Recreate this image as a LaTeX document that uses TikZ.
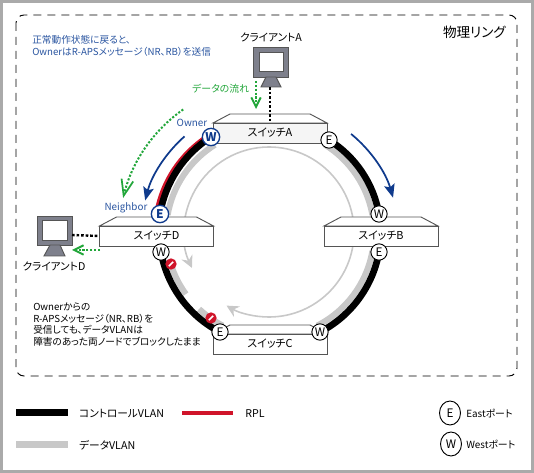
\documentclass[tikz,border=0pt]{standalone}
\usepackage{fontspec}
\setmainfont[RawFeature={+palt}]{Noto Sans CJK JP}
\usetikzlibrary{arrows.meta,calc}
\pgfdeclarelayer{back}
\pgfdeclarelayer{mid}
\pgfsetlayers{back,mid,main}
\definecolor{ctlblue}{HTML}{0F3A8C}
\definecolor{txtblue}{HTML}{2A55A0}
\definecolor{flowgreen}{HTML}{22A63A}
\definecolor{datagray}{HTML}{C8C8C8}
\definecolor{framegray}{HTML}{AAAAAA}
\definecolor{rplred}{HTML}{D0142A}
\definecolor{edgegray}{HTML}{555555}
\definecolor{monitor}{HTML}{7E808C}
\tikzset{
  x=0.75pt,y=-0.75pt,
  txt/.style={inner sep=0pt,font=\fontsize{7.25}{9}\selectfont},
  ltxt/.style={txt,anchor=west},
  bigtxt/.style={inner sep=0pt,font=\fontsize{8}{9}\selectfont},
  lgd/.style={bigtxt,anchor=west},
  bluetxt/.style={ltxt,text=txtblue},
  port/.style={circle,draw=black,fill=white,line width=.7pt,minimum size=12.2pt,inner sep=0pt,font=\fontsize{8.8}{9}\selectfont},
  ownerport/.style={circle,draw=ctlblue,fill=white,line width=1pt,minimum size=13pt,inner sep=0pt,text=ctlblue,font=\fontsize{9}{9}\selectfont\bfseries},
  switchbox/.style={rectangle,draw=edgegray,fill=white,line width=.7pt,minimum width=85.5pt,minimum height=15pt,inner sep=0pt,font=\fontsize{8.2}{9}\selectfont},
  switchtop/.style={draw=edgegray,fill=white,line width=.7pt},
  ctl/.style={line width=5pt,black},
  data/.style={line width=4.6pt,datagray},
  thin ring/.style={line width=1.2pt,datagray,-{Stealth[length=9pt,width=9pt,inset=3pt]}},
  blue flow/.style={line width=1.3pt,ctlblue,-{Stealth[length=10pt,width=8pt,inset=2pt]}},
  green flow/.style={line width=1.5pt,flowgreen,dash pattern=on 1.6pt off 1.3pt},
  mon/.style={draw=edgegray,fill=monitor,line width=.7pt},
  noentry/.style={circle,fill=rplred,minimum size=8.5pt,inner sep=0pt,path picture={\draw[white,line width=1.3pt] ([xshift=-1.6pt,yshift=-1.6pt]path picture bounding box.center) -- ([xshift=1.6pt,yshift=1.6pt]path picture bounding box.center);}},
}
\begin{document}
\begin{tikzpicture}
\useasboundingbox (0,0) rectangle (534,473);
\draw[framegray,line width=2.4pt] (1.6,1.6) rectangle (532.4,471.4);
\draw[black,line width=.7pt,dash pattern=on 6pt off 4.5pt,rounded corners=6pt] (16,15) rectangle (517,376);
\coordinate (ctr) at (270,233);
% ports
\node[ownerport] (aW) at (211,137) {W};
\node[port] (aE) at (329,140) {E};
\node[port] (bW) at (379,214) {W};
\node[port] (bE) at (379,252) {E};
\node[port] (cW) at (320,332) {W};
\node[port] (cE) at (220,332) {E};
\node[port] (dW) at (161,252) {W};
\node[ownerport] (dE) at (160,214) {E};
\begin{pgfonlayer}{back}
  \draw[thin ring] (269,147) arc[start angle=270,end angle=155,radius=85];
  \draw[thin ring] (269,147) arc[start angle=270,end angle=480,radius=85];
  \foreach \a/\b in {238/190,302/350,10/63,163/144,133/125,117/125}{
    \draw[data] ($(ctr)+(\a:104)$) arc[start angle=\a,end angle=\b,radius=104];
  }
  \draw[rplred,line width=3pt] ($(ctr)+(237:115.5)$) arc[start angle=237,end angle=190,radius=115.5];
  \draw[ctl] (aE.center) to[bend left=23.8,looseness=.89] (bW.center);
  \draw[ctl] (bE.center) to[bend left=26.5,looseness=.89] (cW.center);
  \draw[ctl] (dW.center) to[bend right=26.5,looseness=.89] (cE.center);
  \draw[ctl] (dE.center) to[bend left=24.2,looseness=.89] (aW.center);
\end{pgfonlayer}
% switches
\begin{pgfonlayer}{mid}
\foreach \x/\y in {270/133,381/236,270/344,156.5/236}{
  \draw[switchtop] (\x-57,\y-10) -- (\x-40,\y-19) -- (\x+40,\y-19) -- (\x+57,\y-10) -- cycle;
}
\node[switchbox,fill=black!4] (sa) at (270,133) {スイッチA};
\node[switchbox] (sb) at (381,236) {スイッチB};
\node[switchbox] (sc) at (270,344) {スイッチC};
\node[switchbox] (sd) at (156.5,236) {スイッチD};
\end{pgfonlayer}
% clients
\draw[mon] (253,47) rectangle (288,77);
\draw[edgegray,fill=white,line width=.7pt] (259,52) rectangle (283,71);
\draw[mon] (266,77) -- (276,77) -- (281,87) -- (261,87) -- cycle;
\draw[mon] (37,216) rectangle (72,245);
\draw[edgegray,fill=white,line width=.7pt] (42,220) rectangle (67,240);
\draw[mon] (50,245) -- (60,245) -- (65,256) -- (44,256) -- cycle;
\coordinate (cat) at (270,87);
\coordinate (cdr) at (72,235);
\draw[black,line width=1.8pt,dash pattern=on 2pt off 1.4pt] (cat) -- (sa.north);
\draw[black,line width=1.8pt,dash pattern=on 2pt off 1.4pt] (cdr) -- (sd.west);
\coordinate (gf1) at (256,81);
\coordinate (gf2) at (256,109);
\coordinate (gd1) at (100,250);
\coordinate (gd2) at (72,250);
\draw[green flow,-{Straight Barb[length=7pt,width=7pt]}] (gf1) -- (gf2);
\draw[green flow,-{Straight Barb[length=7pt,width=7pt]}] (gd1) -- (gd2);
% blue arrows
\draw[blue flow] ($(ctr)+(228.5:129)$) arc[start angle=228.5,end angle=194.6,radius=129];
\draw[blue flow] ($(ctr)+(-50.7:128)$) arc[start angle=-50.7,end angle=-16,radius=128];
% green dotted arrow
\draw[green flow,-{Straight Barb[length=12pt,width=9pt,line width=1.3pt]}] ($(ctr)+(234.9:151)$) arc[start angle=234.9,end angle=193.4,radius=151];
% no-entry
\node[noentry] (ne1) at (171,264) {};
\node[noentry] (ne2) at (211,318) {};
% texts
\node[bigtxt] (tca) at (271,37) {クライアントA};
\node[bigtxt] (tcd) at (54,266) {クライアントD};
\node[anchor=east,inner sep=0pt,font=\fontsize{10.2}{11}\selectfont] (tring) at (506,32) {物理リング};
\node[bluetxt] (t1) at (32,40) {正常動作状態に戻ると、};
\node[bluetxt] (t2) at (32,52) {OwnerはR-APSメッセージ（NR、RB）を送信};
\node[ltxt,text=flowgreen,font=\fontsize{7.4}{9}\selectfont] (tflow) at (192,89) {データの流れ};
\node[txt,text=txtblue,font=\fontsize{7.4}{9}\selectfont] (town) at (192,123) {Owner};
\node[txt,text=txtblue,font=\fontsize{7.4}{9}\selectfont] (tnei) at (126,208) {Neighbor};
\node[ltxt] (b1) at (33,307) {Ownerからの};
\node[ltxt] (b2) at (33,319) {R-APSメッセージ（NR、RB）を};
\node[ltxt] (b3) at (33,330) {受信しても、データVLANは};
\node[ltxt] (b4) at (33,342) {障害のあった両ノードでブロックしたまま};
% legend
\fill[black] (16,409) rectangle (68,416);
\fill[datagray] (16,441) rectangle (68,448);
\draw[rplred,line width=2.4pt] (182,413) -- (233,413);
\node[lgd] (l1) at (79,414) {コントロールVLAN};
\node[lgd] (l2) at (245,414) {RPL};
\node[lgd] (l3) at (79,445) {データVLAN};
\draw[black,line width=.7pt] (450,413) ellipse [x radius=10.5,y radius=12];
\node[bigtxt,font=\fontsize{8.8}{9}\selectfont] (le) at (450,413) {E};
\draw[black,line width=.7pt] (451,444) ellipse [x radius=10.5,y radius=12];
\node[bigtxt,font=\fontsize{8.8}{9}\selectfont] (lw) at (451,444) {W};
\node[ltxt,font=\fontsize{7.4}{9}\selectfont] (l4) at (466,414) {Eastポート};
\node[ltxt,font=\fontsize{7.4}{9}\selectfont] (l5) at (466,445) {Westポート};
\end{tikzpicture}
\end{document}
